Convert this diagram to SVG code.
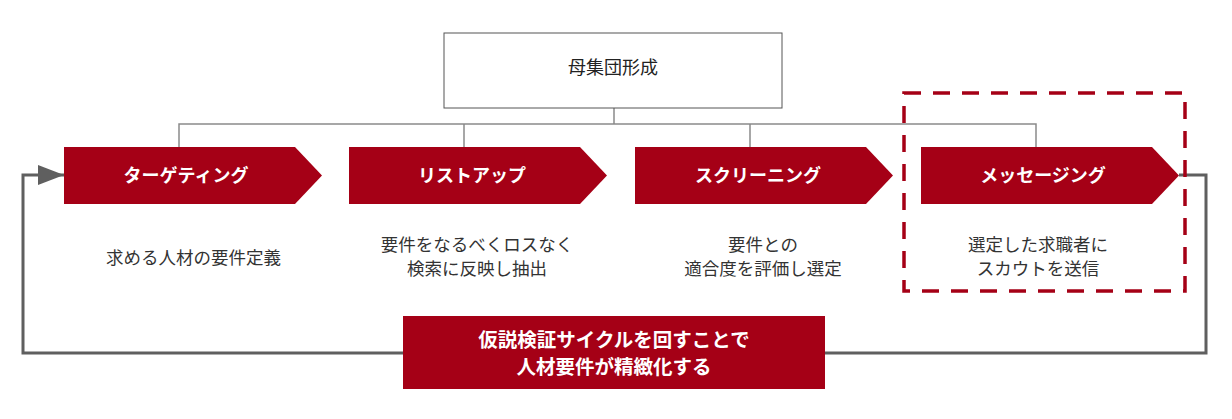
<svg xmlns="http://www.w3.org/2000/svg" width="1232" height="419" viewBox="0 0 1232 419">
<style>
.stage{fill:#a50016}
.sl{font-family:"Noto Sans CJK JP","Liberation Sans",sans-serif;font-size:18px;font-weight:bold;fill:#fff;text-anchor:middle}
.desc{font-family:"Noto Sans CJK JP","Liberation Sans",sans-serif;font-size:17.5px;fill:#333;text-anchor:middle}
.cyc{font-family:"Noto Sans CJK JP","Liberation Sans",sans-serif;font-size:19.5px;font-weight:bold;fill:#fff;text-anchor:middle}
.tree{fill:none;stroke:#8a8a8a;stroke-width:1.5}
.loop{fill:none;stroke:#5f5f5f;stroke-width:3}
</style>
<defs>
<marker id="ah2" viewBox="0 0 26 20" markerWidth="26" markerHeight="20" refX="26" refY="10" orient="auto" markerUnits="userSpaceOnUse">
<path d="M0,0 L26,10 L0,20 Z" fill="#5f5f5f"/>
</marker>
</defs>
<rect width="1232" height="419" fill="#fff"/>
<g id="connectors">
<path class="tree" d="M614,108 V124 M179,147 V124 H1036 V147 M464,124 V147 M750,124 V147"/>
<path class="loop" d="M1179,175 H1206 V353 H23 V175 H64" marker-end="url(#ah2)"/>
</g>
<g id="root">
<rect x="444" y="33" width="338" height="75" fill="#fff" stroke="#555" stroke-width="1"/>
<text x="613" y="74" font-family="'Noto Sans CJK JP','Liberation Sans',sans-serif" font-size="18" fill="#222" text-anchor="middle">母集団形成</text>
</g>
<g id="stage1">
<polygon class="stage" points="64,147 295,147 322,175.5 295,204 64,204"/>
<text class="sl" x="186" y="182">ターゲティング</text>
<text class="desc" x="193.5" y="264">求める人材の要件定義</text>
</g>
<g id="stage2">
<polygon class="stage" points="349,147 580,147 607,175.5 580,204 349,204"/>
<text class="sl" x="472" y="182">リストアップ</text>
<text class="desc" x="477" y="251">要件をなるべくロスなく</text>
<text class="desc" x="477" y="275">検索に反映し抽出</text>
</g>
<g id="stage3">
<polygon class="stage" points="635,147 866,147 893,175.5 866,204 635,204"/>
<text class="sl" x="758" y="182">スクリーニング</text>
<text class="desc" x="763" y="251">要件との</text>
<text class="desc" x="763" y="275">適合度を評価し選定</text>
</g>
<g id="stage4">
<polygon class="stage" points="921,147 1152,147 1179,175.5 1152,204 921,204"/>
<text class="sl" x="1043" y="182">メッセージング</text>
<text class="desc" x="1038" y="251">選定した求職者に</text>
<text class="desc" x="1038" y="275">スカウトを送信</text>
</g>
<g id="highlight">
<rect x="904" y="93" width="281" height="198" fill="none" stroke="#a50016" stroke-width="3.5" stroke-dasharray="17,12"/>
</g>
<g id="cycle">
<rect x="403" y="316" width="422" height="73" fill="#a50016"/>
<text class="cyc" x="614" y="347">仮説検証サイクルを回すことで</text>
<text class="cyc" x="614" y="374">人材要件が精緻化する</text>
</g>
</svg>
